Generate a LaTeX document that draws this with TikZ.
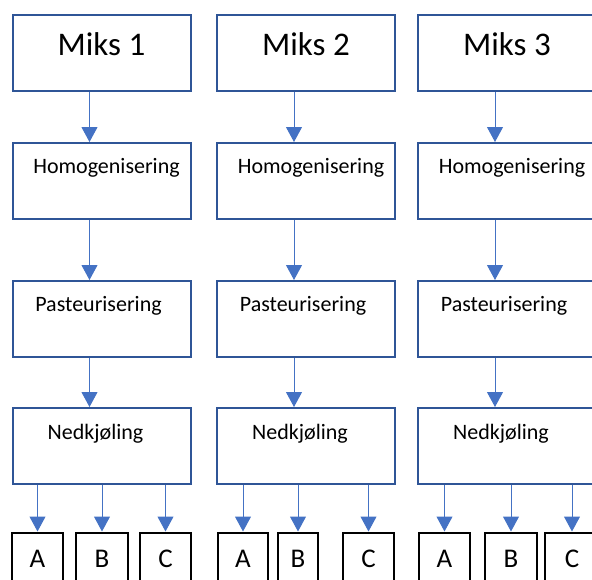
\documentclass[tikz,border=0pt]{standalone}
\usepackage{fontspec}
\setmainfont{Carlito}
\usepackage{xcolor}
\usepackage{tikz}
\usetikzlibrary{arrows.meta}
\usetikzlibrary{calc}

\definecolor{boxblue}{HTML}{2F5597}
\definecolor{arrowblue}{HTML}{4472C4}

\begin{document}
\begin{tikzpicture}[x=1pt,y=-1pt]%%mixes

                \tikzstyle{stage}     = [rectangle, draw=boxblue, line width=2pt, minimum width=178pt, minimum height=76pt, inner sep=0pt, anchor=north west]
                \tikzstyle{sample}    = [rectangle, draw=black, line width=2pt, minimum height=70pt, inner sep=0pt, anchor=north west]
                \tikzstyle{mixtext}   = [anchor=base, font=\fontsize{33}{40}\selectfont]
                \tikzstyle{stagetext} = [anchor=base, font=\fontsize{22}{26}\selectfont]
                \tikzstyle{lettertext}= [anchor=base, font=\fontsize{27}{32}\selectfont]
                \tikzstyle{flow}      = [draw=arrowblue, line width=1pt, -{Triangle[width=16pt,length=15pt]}]

                \useasboundingbox (0,0) rectangle (592,579);
                \clip (0,0) rectangle (592,579);

                \foreach \c/\x in {1/11.5,2/216,3/417}{
                        \node [stage, label={[mixtext, yshift=-41pt]north:Miks \c}](m\c) at (\x,14) {};
                        \node [stage, label={[stagetext, xshift=5pt, yshift=-31pt]north:Homogenisering}](h\c) at (\x,142) {};
                        \node [stage, label={[stagetext, xshift=-3pt, yshift=-31pt]north:Pasteurisering}](p\c) at (\x,280) {};
                        \node [stage, label={[stagetext, xshift=-6pt, yshift=-32pt]north:Nedkjøling}](n\c) at (\x,407) {};
                        \draw [flow] ([xshift=-12pt]m\c.south) -- ([xshift=-12pt]h\c.north);
                        \draw [flow] ([xshift=-12pt]h\c.south) -- ([xshift=-12pt]p\c.north);
                        \draw [flow] ([xshift=-12pt]p\c.south) -- ([xshift=-12pt]n\c.north);
                }

                \foreach \c/\l/\xa/\xb in {1/A/11/62, 1/B/75/127, 1/C/139/190,
                                          2/A/217/267, 2/B/277/317, 2/C/342/393,
                                          3/A/418/469, 3/B/484/536, 3/C/544/598}{
                        \node [sample, minimum width={(\xb-\xa)*1pt}, label={[lettertext, yshift=-36pt]north:\l}](t\c\l) at (\xa,531.5) {};
                        \draw [flow] (n\c.south -| t\c\l) -- (t\c\l.north);
                }
\end{tikzpicture}
\end{document}
